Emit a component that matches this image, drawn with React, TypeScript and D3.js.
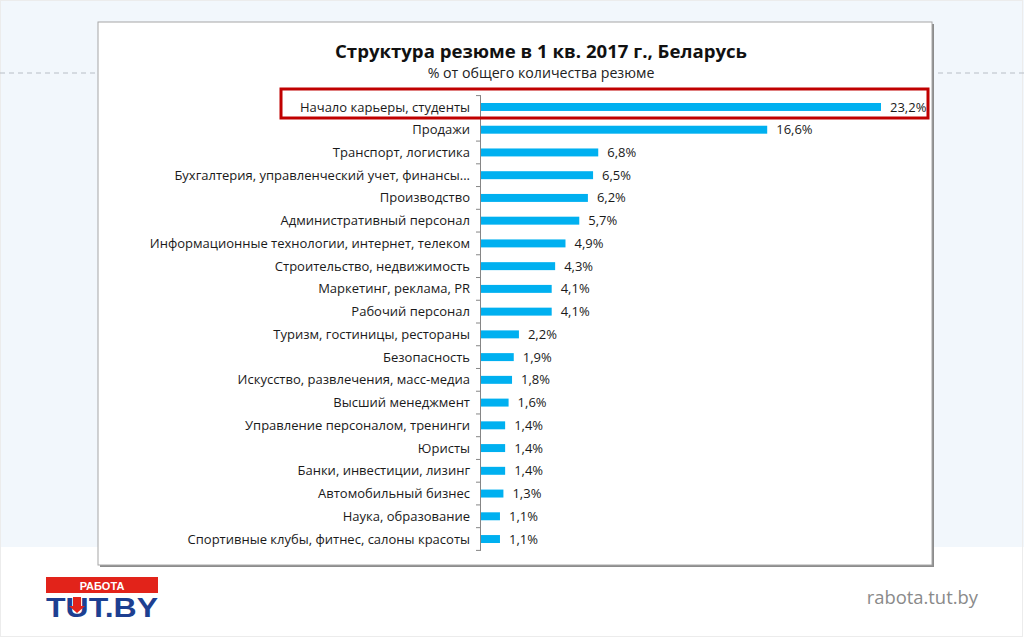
import React from 'react';
import * as d3 from 'd3';

const categories = [
  'Начало карьеры, студенты',
  'Продажи',
  'Транспорт, логистика',
  'Бухгалтерия, управленческий учет, финансы...',
  'Производство',
  'Административный персонал',
  'Информационные технологии, интернет, телеком',
  'Строительство, недвижимость',
  'Маркетинг, реклама, PR',
  'Рабочий персонал',
  'Туризм, гостиницы, рестораны',
  'Безопасность',
  'Искусство, развлечения, масс-медиа',
  'Высший менеджмент',
  'Управление персоналом, тренинги',
  'Юристы',
  'Банки, инвестиции, лизинг',
  'Автомобильный бизнес',
  'Наука, образование',
  'Спортивные клубы, фитнес, салоны красоты',
];

const values = [23.2, 16.6, 6.8, 6.5, 6.2, 5.7, 4.9, 4.3, 4.1, 4.1, 2.2, 1.9, 1.8, 1.6, 1.4, 1.4, 1.4, 1.3, 1.1, 1.1];

const title = 'Структура резюме в 1 кв. 2017 г., Беларусь';
const subtitle = '% от общего количества резюме';

const font = "'Open Sans', 'DejaVu Sans', sans-serif";

const App = () => {
  const W = 1024;
  const H = 639;
  const axisX = 481;

  const x = d3.scaleLinear().domain([0, 23.2]).range([axisX, 881]);
  const y = d3.scaleBand<string>()
    .domain(categories)
    .range([95.6, 550.4])
    .paddingInner(0.65)
    .paddingOuter(0.325);

  const step = y.step();
  const fmt = (v: number) => d3.format('.1f')(v).replace('.', ',') + '%';

  return (
    <svg width={W} height={H} style={{ position: 'absolute', left: 0, top: 0 }} fontFamily={font}>
      <rect x={0} y={0} width={W} height={H} fill="#ffffff" />
      <rect x={0} y={0} width={W} height={547} fill="#f2f7fc" />
      <rect x={0.5} y={0.5} width={W - 2} height={H - 3} fill="none" stroke="#ececec" />
      <line x1={0} x2={96} y1={73} y2={73} stroke="#b8bec6" strokeDasharray="5,4" />
      <line x1={938} x2={W} y1={73} y2={73} stroke="#b8bec6" strokeDasharray="5,4" />

      {/* chart box */}
      <rect x={100} y={24} width={834} height={543} fill="#8c8c8c" />
      <rect x={98} y={22} width={834} height={543} fill="#ffffff" stroke="#a6a6a6" />

      <text x={541} y={58} textAnchor="middle" fontSize={18.6} fontWeight="bold" fill="#111">{title}</text>
      <text x={541} y={78} textAnchor="middle" fontSize={14.2} fill="#222">{subtitle}</text>

      {/* axis */}
      <line x1={axisX - 0.5} x2={axisX - 0.5} y1={95.6} y2={550.4} stroke="#868686" />
      {categories.map((c, i) => (
        <line key={'t' + i} x1={axisX - 5} x2={axisX} y1={(y(c) as number) - (step - y.bandwidth()) / 2} y2={(y(c) as number) - (step - y.bandwidth()) / 2} stroke="#868686" />
      ))}
      <line x1={axisX - 5} x2={axisX} y1={550.4} y2={550.4} stroke="#868686" />

      {categories.map((c, i) => {
        const cy = (y(c) as number) + y.bandwidth() / 2;
        return (
          <g key={c}>
            <rect x={axisX} y={y(c)} width={x(values[i]) - axisX} height={y.bandwidth()} fill="#00b0f0" />
            <text x={470} y={cy} dy="0.35em" textAnchor="end" fontSize={13} fill="#1a1a1a">{c}</text>
            <text x={x(values[i]) + 9} y={cy} dy="0.35em" fontSize={13} fill="#1a1a1a">{fmt(values[i])}</text>
          </g>
        );
      })}

      {/* highlight */}
      <rect x={281} y={89} width={647} height={29} fill="none" stroke="#c00000" strokeWidth={3} />

      {/* logo */}
      <rect x={46} y={577} width={112} height={16} fill="#e2231a" />
      <text x={102} y={589.5} textAnchor="middle" fontSize={11} fontWeight="bold" fill="#fff" fontFamily="'Liberation Sans', sans-serif">РАБОТА</text>
      <text x={46} y={617} fontSize={28} fontWeight="bold" fill="#1d3f91" textLength={112} lengthAdjust="spacingAndGlyphs" fontFamily="'Liberation Sans', sans-serif">TUT.BY</text>
      <polygon points="73,597 81,597 81,606 85,606 77,613 69,606 73,606" fill="#e2231a" />

      <text x={978} y={604} textAnchor="end" fontSize={18.4} fill="#8a8a8a" fontFamily="'Open Sans', sans-serif">rabota.tut.by</text>
    </svg>
  );
};

export default App;
